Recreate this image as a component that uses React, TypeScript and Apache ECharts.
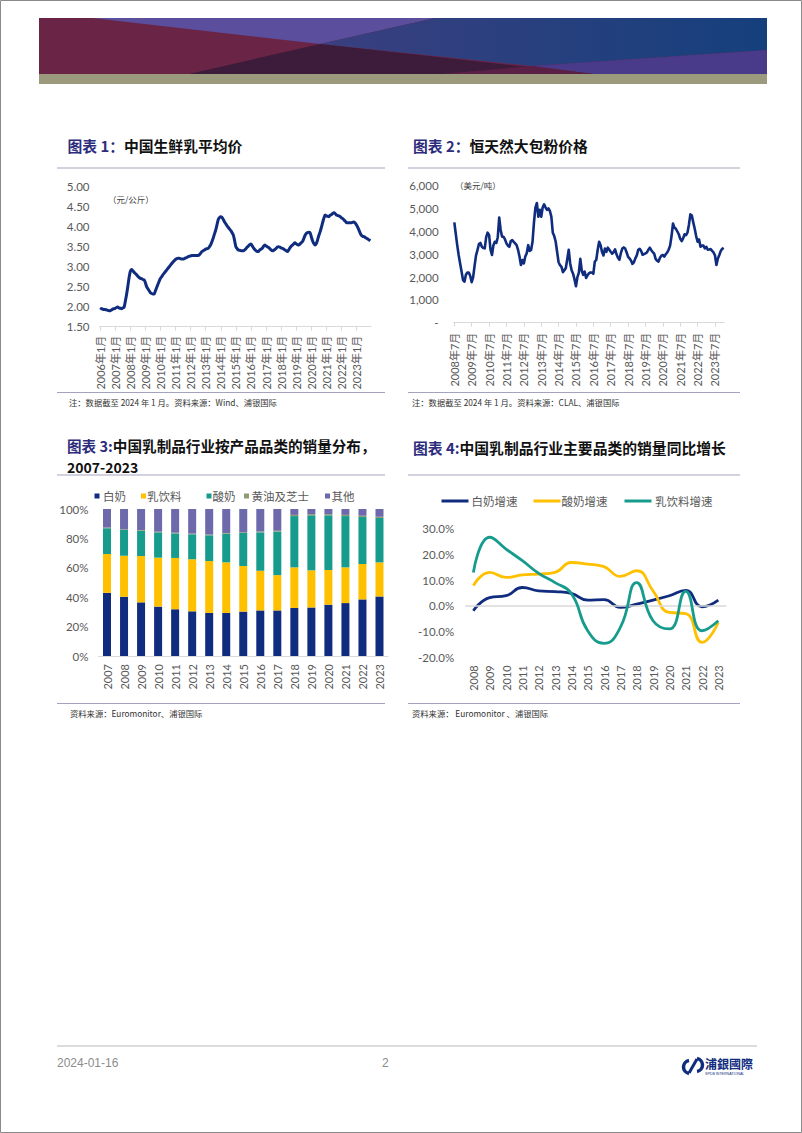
import React, { useEffect, useRef } from 'react';
import * as echarts from 'echarts';

// ---------- Chart 1: 中国生鲜乳平均价 (元/公斤), monthly 2006-01 .. 2023-12 ----------
const freshMilkPrice = [
  1.97, 1.95, 1.94, 1.93, 1.93, 1.92, 1.91, 1.90, 1.90, 1.92, 1.94, 1.95,
  1.96, 1.98, 1.99, 1.97, 1.96, 1.95, 1.97, 1.98, 2.13, 2.30, 2.50, 2.72,
  2.88, 2.93, 2.90, 2.86, 2.83, 2.80, 2.76, 2.73, 2.71, 2.70, 2.68, 2.67,
  2.60, 2.50, 2.45, 2.40, 2.35, 2.33, 2.32, 2.32, 2.40, 2.48, 2.56, 2.64,
  2.71, 2.75, 2.80, 2.84, 2.88, 2.92, 2.96, 3.00, 3.04, 3.08, 3.12, 3.15,
  3.18, 3.20, 3.21, 3.21, 3.20, 3.19, 3.19, 3.20, 3.22, 3.23, 3.25, 3.26,
  3.27, 3.28, 3.28, 3.28, 3.28, 3.28, 3.28, 3.30, 3.34, 3.38, 3.40, 3.42,
  3.44, 3.45, 3.46, 3.50, 3.55, 3.63, 3.72, 3.82, 3.92, 4.05, 4.18, 4.23,
  4.25, 4.23, 4.18, 4.12, 4.07, 4.02, 3.98, 3.94, 3.90, 3.85, 3.79, 3.65,
  3.50, 3.45, 3.42, 3.41, 3.40, 3.40, 3.40, 3.42, 3.45, 3.49, 3.52, 3.55,
  3.57, 3.52, 3.47, 3.43, 3.40, 3.38, 3.38, 3.42, 3.44, 3.46, 3.51, 3.54,
  3.52, 3.50, 3.48, 3.45, 3.42, 3.40, 3.41, 3.43, 3.46, 3.49, 3.50, 3.49,
  3.47, 3.46, 3.44, 3.42, 3.40, 3.38, 3.42, 3.47, 3.51, 3.54, 3.57, 3.60,
  3.57, 3.55, 3.54, 3.57, 3.60, 3.63, 3.70, 3.78, 3.83, 3.85, 3.86, 3.85,
  3.75, 3.65, 3.58, 3.54, 3.58, 3.67, 3.78, 3.87, 3.98, 4.10, 4.21, 4.29,
  4.27, 4.26, 4.25, 4.29, 4.30, 4.33, 4.35, 4.33, 4.29, 4.28, 4.27, 4.25,
  4.22, 4.20, 4.17, 4.14, 4.10, 4.10, 4.10, 4.10, 4.10, 4.11, 4.12, 4.09,
  4.04, 3.98, 3.91, 3.83, 3.78, 3.76, 3.75, 3.73, 3.71, 3.69, 3.67, 3.65,
];
const milkStart = { year: 2006, month: 1 };
const milkTicks = [1.5, 5.0, 0.5]; // min, max, step

// ---------- Chart 2: 恒天然大包粉价格 (美元/吨), monthly 2008-07 .. 2024-01 ----------
const wmpPrice = [
  4400, 3900, 3400, 2970, 2600, 2250, 1870, 1800, 2100, 2200, 2200, 2050,
  1780, 2000, 2500, 2950, 3190, 3450, 3500, 3330, 3280, 3260, 3750, 3950,
  3850, 3200, 2970, 3400, 3550, 3500, 3750, 4610, 4070, 3770, 3770, 3650,
  3480, 3380, 3330, 3580, 3620, 3550, 3480, 3400, 3200, 2900, 2530, 2750,
  2600, 2900, 3050, 3400, 3150, 3190, 3550, 4400, 5050, 5250, 4650, 4950,
  4650, 5050, 5190, 5050, 4950, 5010, 4900, 4650, 3950, 3800, 3550, 3100,
  2650, 2520, 2450, 2220, 2300, 2400, 2800, 3200, 2600, 2300, 2150, 1900,
  1600, 2000, 2200, 2800, 2280, 2100, 2240, 1960, 2080, 2170, 2200, 2200,
  2150, 2680, 2750, 3200, 3550, 3400, 3100, 2950, 3250, 3110, 3290, 3200,
  3110, 3030, 3100, 3220, 3000, 2850, 2760, 3050, 3250, 3300, 3250, 3080,
  2890, 2820, 2730, 2580, 2650, 2820, 2950, 3200, 3240, 3150, 2980, 3010,
  3040, 3080, 3200, 3290, 3180, 3100, 3030, 2800, 2720, 2680, 2850, 2940,
  2970, 2900, 3000, 3080, 3200, 3380, 3800, 4350, 4170, 4120, 4000, 3880,
  3680, 3580, 3700, 3880, 3840, 3950, 4300, 4750, 4700, 4400, 4120, 3800,
  3550, 3650, 3330, 3380, 3380, 3260, 3330, 3200, 3210, 3230, 3150, 3080,
  2950, 2530, 2820, 2970, 3150, 3240, 3280,
];
const wmpStart = { year: 2008, month: 7 };

// ---------- Chart 3: 销量分布 (%) ----------
const years3 = ['2007', '2008', '2009', '2010', '2011', '2012', '2013', '2014', '2015', '2016', '2017', '2018', '2019', '2020', '2021', '2022', '2023'];
const plainMilkShare = [43.0, 40.3, 36.5, 33.6, 31.8, 30.4, 29.3, 29.3, 30.2, 31.0, 31.0, 32.7, 33.0, 34.9, 36.0, 38.5, 40.5];
const milkDrinkShare = [26.4, 27.9, 31.5, 33.3, 34.9, 35.4, 35.3, 34.4, 31.0, 27.0, 24.0, 27.6, 25.3, 23.6, 24.3, 24.1, 23.2];
const yogurtShare = [17.5, 17.5, 17.2, 17.2, 16.7, 17.0, 17.5, 19.5, 22.5, 26.1, 29.6, 34.9, 37.4, 37.2, 34.9, 32.0, 30.2];
const butterCheeseShare = [0.5, 0.5, 0.5, 0.5, 0.5, 0.5, 0.5, 0.5, 0.5, 0.6, 0.6, 0.8, 0.8, 0.8, 0.8, 0.8, 0.8];
const otherShare = [12.6, 13.8, 14.3, 15.4, 16.1, 16.7, 17.4, 16.3, 15.8, 15.3, 14.8, 4.0, 3.5, 3.5, 4.0, 4.6, 5.3];
const shareNames = ['白奶', '乳饮料', '酸奶', '黄油及芝士', '其他'];

// ---------- Chart 4: 销量同比增长 (%) ----------
const years4 = ['2008', '2009', '2010', '2011', '2012', '2013', '2014', '2015', '2016', '2017', '2018', '2019', '2020', '2021', '2022', '2023'];
const plainMilkGrowth = [-1.9, 3.2, 3.9, 7.1, 5.8, 5.5, 4.8, 2.2, 2.4, -0.6, 0.6, 2.2, 3.9, 6.0, -0.4, 2.2];
const yogurtGrowth = [7.8, 13.0, 11.0, 12.0, 12.3, 13.0, 16.8, 16.2, 15.2, 11.4, 13.6, 5.8, -2.6, -3.0, -14.2, -6.5];
const milkDrinkGrowth = [12.9, 26.6, 22.0, 17.5, 12.6, 9.0, 4.8, -9.7, -14.6, -8.4, 9.0, -5.8, -9.0, 5.6, -9.7, -5.8];
const growthNames = ['白奶增速', '酸奶增速', '乳饮料增速'];

// ---------- styling ----------
const NAVY = '#102C7E';
const YELLOW = '#FFC000';
const TEAL = '#179B8D';
const OLIVE = '#8E9A72';
const PURPLE = '#6D69AA';
const AXIS_TEXT = '#595959';
const RULE = '#A3A3BF';
const NUM_FONT = 'Lato, "Noto Sans CJK SC", sans-serif';
const CJK_FONT = '"Noto Sans CJK SC", sans-serif';
const TITLE_SIZE = 14.8;

function monthLabels(startYear: number, startMonth: number, count: number): string[] {
  const out: string[] = [];
  for (let i = 0; i < count; i++) {
    const t = startMonth - 1 + i;
    out.push(`${startYear + Math.floor(t / 12)}年${(t % 12) + 1}月`);
  }
  return out;
}

function titleText(x: number, y: number, head: string, body: string, size = TITLE_SIZE) {
  return {
    type: 'text',
    x,
    y,
    style: {
      text: `{a|${head}}{b|${body}}`,
      verticalAlign: 'middle',
      rich: {
        a: { fontSize: size, fontWeight: 'bold', fill: '#2D2C7C', fontFamily: CJK_FONT },
        b: { fontSize: size, fontWeight: 'bold', fill: '#111', fontFamily: CJK_FONT },
      },
    },
  };
}

function plainText(x: number, y: number, text: string, size: number, color: string, font = CJK_FONT, weight = 'normal') {
  return {
    type: 'text',
    x,
    y,
    style: { text, fontSize: size, fill: color, fontFamily: font, fontWeight: weight, verticalAlign: 'middle' },
  };
}

function hLine(x1: number, x2: number, y: number, color = RULE, w = 1) {
  return { type: 'line', shape: { x1, y1: y, x2, y2: y }, style: { stroke: color, lineWidth: w } };
}

export default function App() {
  const ref = useRef<HTMLDivElement>(null);

  useEffect(() => {
    if (!ref.current) return;
    const chart = echarts.init(ref.current, undefined, { renderer: 'svg' });

    const milkCats = monthLabels(milkStart.year, milkStart.month, freshMilkPrice.length);
    const wmpCats = monthLabels(wmpStart.year, wmpStart.month, wmpPrice.length);

    const yLabel = { color: AXIS_TEXT, fontSize: 11.5, fontFamily: NUM_FONT };
    const xLabel = { color: AXIS_TEXT, fontSize: 11, fontFamily: NUM_FONT, rotate: 90 };
    const grayAxis = { show: true, lineStyle: { color: '#D9D9D9', width: 1 } };

    const shareColors = [NAVY, YELLOW, TEAL, OLIVE, PURPLE];
    const shareData = [plainMilkShare, milkDrinkShare, yogurtShare, butterCheeseShare, otherShare];
    const growthColors = [NAVY, YELLOW, TEAL];
    const growthData = [plainMilkGrowth, yogurtGrowth, milkDrinkGrowth];

    // legend of chart 3
    const legend3X = [94.5, 141, 206.5, 244, 325];
    const legend3T = [103, 147, 212.5, 251.5, 331.5];
    const legend3: any[] = [];
    shareNames.forEach((n, i) => {
      legend3.push({ type: 'rect', shape: { x: legend3X[i], y: 493.5, width: 5, height: 5 }, style: { fill: shareColors[i] } });
      legend3.push(plainText(legend3T[i], 496, n, 11.5, AXIS_TEXT));
    });
    // legend of chart 4
    const legend4L = [441.5, 533.5, 624.5];
    const legend4T = [471.5, 561.5, 655];
    const legend4: any[] = [];
    growthNames.forEach((n, i) => {
      legend4.push({ type: 'line', shape: { x1: legend4L[i], y1: 501, x2: legend4L[i] + 27, y2: 501 }, style: { stroke: growthColors[i], lineWidth: 3 } });
      legend4.push(plainText(legend4T[i], 501, n, 11.5, AXIS_TEXT));
    });

    const banner: any[] = [
      { type: 'rect', shape: { x: 39, y: 18, width: 728, height: 56 }, style: { fill: '#6A2446' } },
      { type: 'polygon', shape: { points: [[92, 18], [435, 18], [320, 44]] }, style: { fill: '#5B4E9C' } },
      {
        type: 'polygon',
        shape: { points: [[435, 18], [767, 18], [767, 50], [532, 66], [320, 44]] },
        style: { fill: new echarts.graphic.LinearGradient(0, 0, 1, 0, [{ offset: 0, color: '#3A3F80' }, { offset: 1, color: '#15407C' }]) },
      },
      { type: 'polygon', shape: { points: [[532, 66], [767, 50], [767, 74], [593, 74]] }, style: { fill: '#4A3A8A' } },
      { type: 'polygon', shape: { points: [[189, 74], [320, 44], [593, 74]] }, style: { fill: '#3C1C3A' } },
      { type: 'polygon', shape: { points: [[440, 74], [532, 66], [593, 74]] }, style: { fill: '#5A1F45' } },
      { type: 'rect', shape: { x: 39, y: 74, width: 728, height: 10 }, style: { fill: '#9B9A7D' } },
    ];

    const logo: any[] = [
      { type: 'arc', shape: { cx: 690, cy: 1067, r: 6.5, startAngle: Math.PI * 0.55, endAngle: Math.PI * 1.45, clockwise: true }, style: { stroke: NAVY, lineWidth: 3.5, fill: 'none' } },
      { type: 'arc', shape: { cx: 696, cy: 1065, r: 6.5, startAngle: -Math.PI * 0.45, endAngle: Math.PI * 0.45, clockwise: true }, style: { stroke: NAVY, lineWidth: 3.5, fill: 'none' } },
      { type: 'line', shape: { x1: 689, y1: 1073, x2: 697, y2: 1059 }, style: { stroke: NAVY, lineWidth: 3 } },
      plainText(705, 1063, '浦銀國際', 12, NAVY, CJK_FONT, 'bold'),
      plainText(705, 1073.5, 'SPDB INTERNATIONAL', 3.6, NAVY, 'Liberation Sans, sans-serif'),
    ];

    const option: any = {
      animation: false,
      backgroundColor: '#ffffff',
      grid: [
        { left: 99.5, top: 186.7, width: 271.5, height: 140 },
        { left: 453.6, top: 185.9, width: 270.8, height: 136.8 },
        { left: 98.5, top: 509, width: 289.5, height: 147 },
        { left: 465.2, top: 528.5, width: 261.3, height: 128.8 },
      ],
      xAxis: [
        {
          type: 'category', gridIndex: 0, data: milkCats, boundaryGap: true,
          axisLine: grayAxis,
          axisTick: { show: true, interval: 11, alignWithLabel: true, length: 4, lineStyle: { color: '#D9D9D9' } },
          axisLabel: { ...xLabel, interval: 11, margin: 9 },
        },
        {
          type: 'category', gridIndex: 1, data: wmpCats, boundaryGap: true,
          axisLine: grayAxis,
          axisTick: { show: true, interval: 11, alignWithLabel: true, length: 4, lineStyle: { color: '#D9D9D9' } },
          axisLabel: { ...xLabel, interval: 11, margin: 10 },
        },
        {
          type: 'category', gridIndex: 2, data: years3,
          axisLine: grayAxis, axisTick: { show: false },
          axisLabel: { ...xLabel, interval: 0, margin: 8 },
        },
        {
          type: 'category', gridIndex: 3, data: years4, position: 'bottom',
          axisLine: { show: false, onZero: false }, axisTick: { show: false },
          axisLabel: { ...xLabel, interval: 0, margin: 8 },
        },
      ],
      yAxis: [
        {
          type: 'value', gridIndex: 0, min: milkTicks[0], max: milkTicks[1], interval: milkTicks[2],
          axisLine: { show: false }, axisTick: { show: false }, splitLine: { show: false },
          axisLabel: { ...yLabel, margin: 10, formatter: (v: number) => v.toFixed(2) },
        },
        {
          type: 'value', gridIndex: 1, min: 0, max: 6000, interval: 1000,
          axisLine: { show: false }, axisTick: { show: false }, splitLine: { show: false },
          axisLabel: { ...yLabel, margin: 15, formatter: (v: number) => (v === 0 ? '-' : v.toLocaleString('en-US')) },
        },
        {
          type: 'value', gridIndex: 2, min: 0, max: 100, interval: 20,
          axisLine: { show: false }, axisTick: { show: false }, splitLine: { show: false },
          axisLabel: { ...yLabel, margin: 10, formatter: (v: number) => `${v}%` },
        },
        {
          type: 'value', gridIndex: 3, min: -20, max: 30, interval: 10,
          axisLine: { show: false }, axisTick: { show: false }, splitLine: { show: false },
          axisLabel: { ...yLabel, margin: 11, formatter: (v: number) => `${v.toFixed(1)}%` },
        },
      ],
      series: [
        {
          name: '生鲜乳平均价', type: 'line', xAxisIndex: 0, yAxisIndex: 0, data: freshMilkPrice,
          showSymbol: false, smooth: 0.3, lineStyle: { color: NAVY, width: 3 }, itemStyle: { color: NAVY },
        },
        {
          name: '恒天然大包粉价格', type: 'line', xAxisIndex: 1, yAxisIndex: 1, data: wmpPrice,
          showSymbol: false, smooth: false, lineStyle: { color: NAVY, width: 2.6, join: 'round' }, itemStyle: { color: NAVY },
        },
        ...shareNames.map((n, i) => ({
          name: n, type: 'bar', stack: 'share', xAxisIndex: 2, yAxisIndex: 2, data: shareData[i],
          barWidth: 8, itemStyle: { color: shareColors[i] },
        })),
        ...growthNames.map((n, i) => ({
          name: n, type: 'line', xAxisIndex: 3, yAxisIndex: 3, data: growthData[i],
          showSymbol: false, smooth: 0.5, lineStyle: { color: growthColors[i], width: 2.8 }, itemStyle: { color: growthColors[i] },
          z: 3 + i,
          markLine: i === 0 ? {
            silent: true, symbol: ['none', 'none'], label: { show: false },
            lineStyle: { color: '#D9D9D9', width: 1.5, type: 'solid' },
            data: [{ yAxis: 0 }],
          } : undefined,
        })),
      ],
      graphic: [
        { type: 'rect', shape: { x: 0.5, y: 0.5, width: 801, height: 1132 }, style: { fill: 'none', stroke: '#8A8A8A', lineWidth: 1 } },
        ...banner,
        titleText(67.5, 145, '图表 1：', '中国生鲜乳平均价'),
        titleText(413, 145, '图表 2：', '恒天然大包粉价格'),
        titleText(67, 445.5, '图表 3:', '中国乳制品行业按产品品类的销量分布，', 14.6),
        plainText(67, 466.5, '2007-2023', 14, '#111', CJK_FONT, 'bold'),
        titleText(413, 447, '图表 4:', '中国乳制品行业主要品类的销量同比增长'),
        hLine(57, 385, 168),
        hLine(408, 740, 168),
        hLine(57, 385, 392.5),
        hLine(408, 740, 392.5),
        hLine(57, 385, 475),
        hLine(408, 740, 475),
        hLine(57, 385, 703.5),
        hLine(408, 740, 703.5),
        plainText(108, 198.5, '（元/公斤）', 8.5, '#404040'),
        plainText(455, 184.5, '（美元/吨）', 8.5, '#404040'),
        plainText(69, 401.5, '注：数据截至 2024 年 1 月。资料来源：Wind、浦银国际', 8.3, '#333'),
        plainText(412, 401.5, '注：数据截至 2024 年 1 月。资料来源：CLAL、浦银国际', 8.3, '#333'),
        plainText(70, 712.5, '资料来源：Euromonitor、浦银国际', 8.3, '#333'),
        plainText(412, 712.5, '资料来源： Euromonitor 、浦银国际', 8.3, '#333'),
        ...legend3,
        ...legend4,
        hLine(57, 757, 1046, '#D0D0D0', 1.5),
        plainText(57, 1063, '2024-01-16', 12, '#8C8C8C', '"Liberation Sans Narrow", "Liberation Sans", sans-serif'),
        plainText(382, 1063, '2', 12, '#8C8C8C', '"Liberation Sans Narrow", "Liberation Sans", sans-serif'),
        ...logo,
      ],
    };

    chart.setOption(option);
    return () => chart.dispose();
  }, []);

  return (
    <div
      ref={ref}
      style={{ position: 'absolute', left: 0, top: 0, width: 802, height: 1133, background: '#fff' }}
    />
  );
}
